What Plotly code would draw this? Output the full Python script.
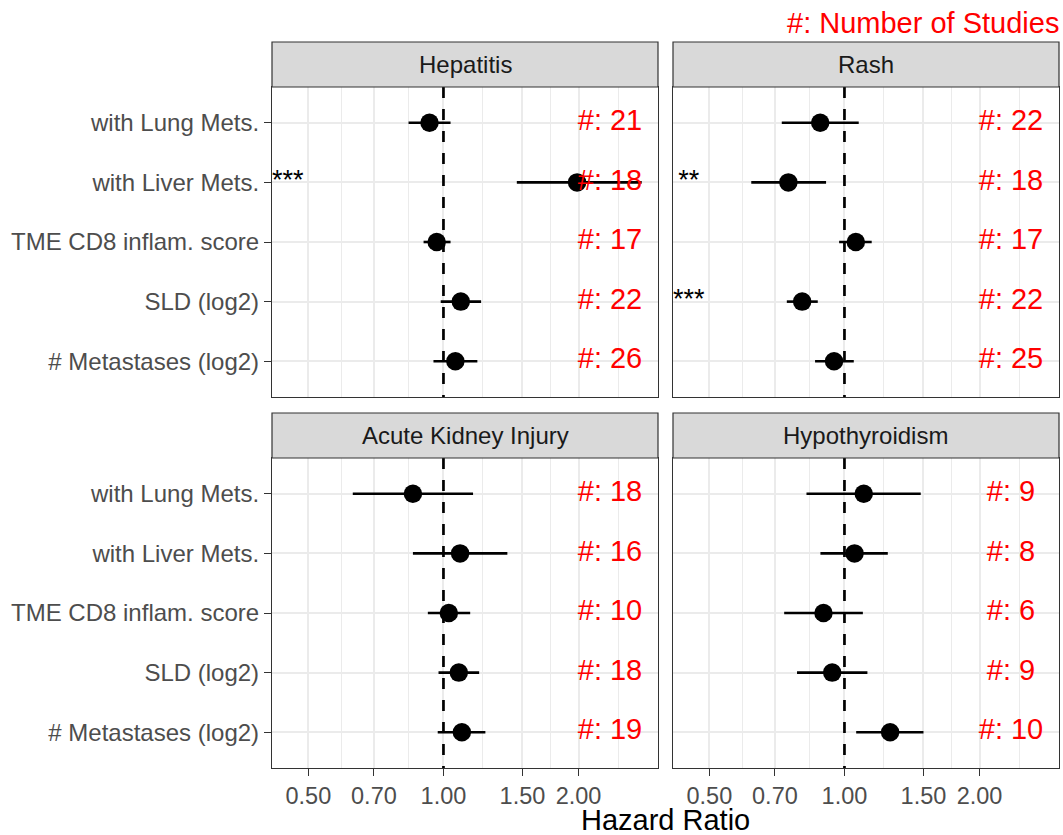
import numpy as np
import plotly.graph_objects as go

# ---------------- data ----------------
categories = ["with Lung Mets.", "with Liver Mets.", "TME CD8 inflam. score",
              "SLD (log2)", "# Metastases (log2)"]
panels = ["Hepatitis", "Rash", "Acute Kidney Injury", "Hypothyroidism"]

hr_hepatitis = [0.931, 1.985, 0.966, 1.093, 1.063]
lo_hepatitis = [0.836, 1.457, 0.903, 0.986, 0.950]
hi_hepatitis = [1.037, 2.765, 1.037, 1.213, 1.190]
n_hepatitis = [21, 18, 17, 22, 26]
sig_hepatitis = ["", "***", "", "", ""]

hr_rash = [0.883, 0.750, 1.060, 0.805, 0.948]
lo_rash = [0.725, 0.620, 0.973, 0.744, 0.860]
hi_rash = [1.076, 0.910, 1.150, 0.872, 1.049]
n_rash = [22, 18, 17, 22, 25]
sig_rash = ["", "**", "", "***", ""]

hr_aki = [0.855, 1.089, 1.028, 1.082, 1.099]
lo_aki = [0.628, 0.855, 0.923, 0.975, 0.971]
hi_aki = [1.164, 1.388, 1.147, 1.201, 1.240]
n_aki = [18, 16, 10, 18, 19]
sig_aki = ["", "", "", "", ""]

hr_hypo = [1.104, 1.053, 0.898, 0.939, 1.264]
lo_hypo = [0.823, 0.884, 0.734, 0.784, 1.062]
hi_hypo = [1.479, 1.249, 1.099, 1.125, 1.500]
n_hypo = [9, 8, 6, 9, 10]
sig_hypo = ["", "", "", "", ""]

x_tickvals = [0.5, 0.7, 1.0, 1.5, 2.0]
x_ticktext = ["0.50", "0.70", "1.00", "1.50", "2.00"]
ref_hr = 1.0

panel_data = [
    (hr_hepatitis, lo_hepatitis, hi_hepatitis, n_hepatitis, sig_hepatitis),
    (hr_rash, lo_rash, hi_rash, n_rash, sig_rash),
    (hr_aki, lo_aki, hi_aki, n_aki, sig_aki),
    (hr_hypo, lo_hypo, hi_hypo, n_hypo, sig_hypo),
]

# ---------------- layout constants ----------------
W, H = 1063, 835
FONT = "Liberation Sans, Arial, sans-serif"
label_x = 2.35      # position of "#: N" labels (HR scale)
star_x = 0.45       # position of significance stars (HR scale)
x_range = [-0.382, 0.478]  # log10
y_range = [-0.6, 4.6]

col_px = [(272, 658), (673, 1059)]
row_px = [(87, 397), (458, 768)]
strip_px = [(42, 87), (413, 458)]

# major break midpoints (log space) for minor grid
ext_breaks = x_tickvals + [3.0]
minor_vals = [float(np.sqrt(a * b)) for a, b in zip(ext_breaks[:-1], ext_breaks[1:])]

ypos = [len(categories) - 1 - i for i in range(len(categories))]

fig = go.Figure()
layout = dict(
    width=W, height=H,
    margin=dict(l=0, r=0, t=0, b=0),
    paper_bgcolor="white", plot_bgcolor="white",
    showlegend=False,
    font=dict(family=FONT),
)
shapes = []
annotations = []

for k, (name, (hr, lo, hi, n, sig)) in enumerate(zip(panels, panel_data)):
    r, c = divmod(k, 2)
    idx = "" if k == 0 else str(k + 1)
    xa, ya = "x" + idx, "y" + idx
    xdom = [col_px[c][0] / W, col_px[c][1] / W]
    ydom = [1 - row_px[r][1] / H, 1 - row_px[r][0] / H]

    layout["xaxis" + idx] = dict(
        domain=xdom, anchor=ya, type="log", range=x_range,
        tickmode="array", tickvals=x_tickvals, ticktext=x_ticktext,
        showticklabels=(r == 1), ticks="outside" if r == 1 else "",
        ticklen=7, tickwidth=1.3, tickcolor="#333333",
        tickfont=dict(size=23.5, color="#4D4D4D", family=FONT),
        showgrid=True, gridcolor="#EBEBEB", gridwidth=1.6,
        minor=dict(tickmode="array", tickvals=minor_vals, showgrid=True,
                   gridcolor="#EBEBEB", gridwidth=0.8, ticks=""),
        showline=True, mirror=True, linecolor="#333333", linewidth=1.2,
        zeroline=False, fixedrange=True,
    )
    layout["yaxis" + idx] = dict(
        domain=ydom, anchor=xa, range=y_range,
        tickmode="array", tickvals=ypos, ticktext=categories,
        showticklabels=(c == 0), ticks="outside" if c == 0 else "",
        ticklen=7, tickwidth=1.3, tickcolor="#333333",
        tickfont=dict(size=24, color="#4D4D4D", family=FONT),
        showgrid=True, gridcolor="#EBEBEB", gridwidth=1.6,
        showline=True, mirror=True, linecolor="#333333", linewidth=1.2,
        zeroline=False, fixedrange=True,
    )

    # reference line at HR = 1
    fig.add_trace(go.Scatter(
        x=[ref_hr, ref_hr], y=[y_range[1], y_range[0]], mode="lines",
        line=dict(color="black", width=2.7, dash="11px,11px"),
        xaxis=xa, yaxis=ya, hoverinfo="skip"))

    # points with CI
    fig.add_trace(go.Scatter(
        x=hr, y=ypos, mode="markers",
        marker=dict(color="black", size=18.5, line=dict(width=0)),
        error_x=dict(type="data", symmetric=False,
                     array=[h - m for h, m in zip(hi, hr)],
                     arrayminus=[m - l for m, l in zip(hr, lo)],
                     width=0, thickness=2.6, color="black"),
        xaxis=xa, yaxis=ya))

    # number of studies
    fig.add_trace(go.Scatter(
        x=[label_x] * len(n), y=ypos, mode="text",
        text=[f"#: {v}" for v in n], textposition="middle center",
        textfont=dict(size=29, color="red", family=FONT),
        xaxis=xa, yaxis=ya, hoverinfo="skip"))

    # significance stars
    fig.add_trace(go.Scatter(
        x=[star_x] * len(sig), y=ypos, mode="text",
        text=sig, textposition="middle center",
        textfont=dict(size=27, color="black", family=FONT),
        xaxis=xa, yaxis=ya, hoverinfo="skip"))

    # strip
    shapes.append(dict(type="rect", xref="paper", yref="paper",
                       x0=xdom[0], x1=xdom[1],
                       y0=1 - strip_px[r][1] / H, y1=1 - strip_px[r][0] / H,
                       fillcolor="#D9D9D9", line=dict(color="#333333", width=1.2),
                       layer="above"))
    annotations.append(dict(text=name, xref="paper", yref="paper",
                            x=(xdom[0] + xdom[1]) / 2,
                            y=1 - (strip_px[r][0] + strip_px[r][1]) / 2 / H,
                            xanchor="center", yanchor="middle", showarrow=False,
                            font=dict(size=24, color="#1A1A1A", family=FONT)))

annotations.append(dict(text="#: Number of Studies", xref="paper", yref="paper",
                        x=1061 / W, y=1 - 23 / H, xanchor="right", yanchor="middle",
                        showarrow=False, font=dict(size=29, color="red", family=FONT)))
annotations.append(dict(text="Hazard Ratio", xref="paper", yref="paper",
                        x=665.5 / W, y=1 - 820 / H, xanchor="center", yanchor="middle",
                        showarrow=False, font=dict(size=29, color="black", family=FONT)))

layout["shapes"] = shapes
layout["annotations"] = annotations
fig.update_layout(**layout)
fig.write_html("out.html")
